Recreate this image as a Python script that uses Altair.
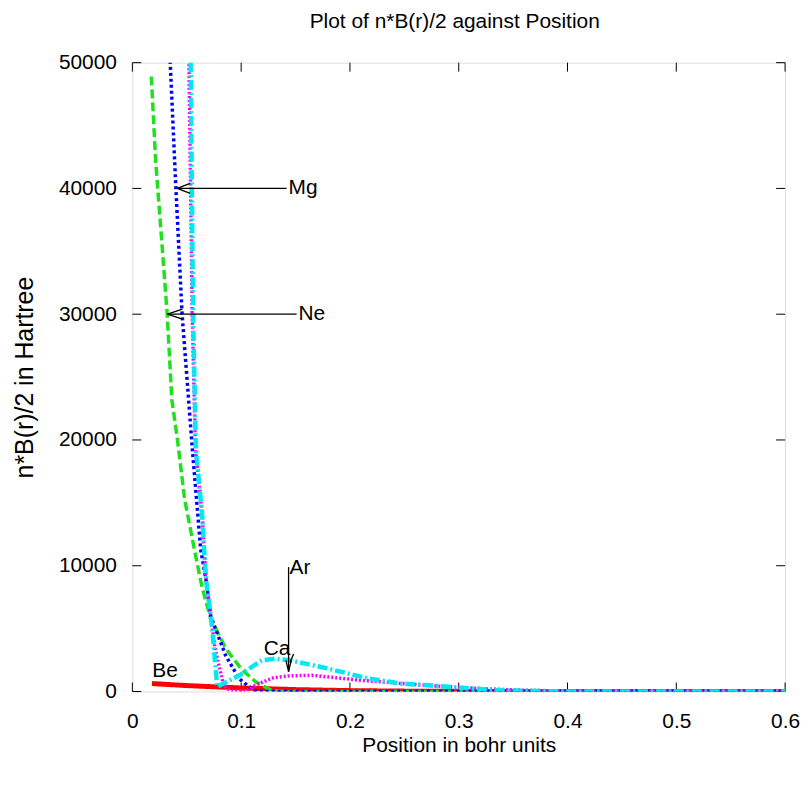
import altair as alt
import pandas as pd

# ---------------- data ----------------
be_x = [0.018, 0.05, 0.1, 0.15, 0.2, 0.25, 0.3, 0.4, 0.5, 0.6]
be_y = [630, 470, 280, 150, 70, 30, 10, 0, 0, 0]

ne_x = [0.0174, 0.0214, 0.0277, 0.032, 0.0363, 0.0415, 0.048, 0.057, 0.064, 0.072, 0.086, 0.1, 0.113, 0.128, 0.14, 0.2, 0.3, 0.4, 0.5, 0.6]
ne_y = [48900, 42200, 35000, 30000, 23200, 20000, 15300, 11300, 8300, 5800, 3400, 1800, 790, 80, 0, 0, 0, 0, 0, 0]

mg_x = [0.03, 0.0348, 0.040, 0.0457, 0.0552, 0.0628, 0.068, 0.072, 0.0857, 0.098, 0.107, 0.112, 0.12, 0.2, 0.3, 0.4, 0.5, 0.6]
mg_y = [62000, 50000, 40000, 30000, 19200, 11300, 8700, 6000, 2870, 1030, 400, 80, 0, 0, 0, 0, 0, 0]

ar_x = [0.048, 0.052, 0.055, 0.058, 0.0613, 0.0643, 0.0659, 0.068, 0.072, 0.076, 0.0796, 0.084, 0.09, 0.105, 0.113, 0.13, 0.144, 0.165, 0.21, 0.272, 0.317, 0.36, 0.4, 0.5, 0.6]
ar_y = [60000, 50000, 30000, 19200, 16600, 13900, 11300, 8700, 6000, 3400, 2060, 470, 50, 50, 500, 1100, 1240, 1290, 890, 475, 240, 100, 20, 0, 0]

ca_x = [0.05, 0.0536, 0.0558, 0.0585, 0.0613, 0.0643, 0.0659, 0.068, 0.072, 0.0734, 0.078, 0.098, 0.119, 0.131, 0.145, 0.18, 0.217, 0.247, 0.272, 0.302, 0.336, 0.4, 0.5, 0.6]
ca_y = [60000, 50000, 30000, 19200, 16600, 13900, 11300, 8700, 6000, 5000, 370, 1270, 2480, 2610, 2480, 1820, 1030, 630, 500, 300, 100, 0, 0, 0]

x_ticks = [0, 0.1, 0.2, 0.3, 0.4, 0.5, 0.6]
y_ticks = [0, 10000, 20000, 30000, 40000, 50000]

title_text = ["Plot of n*B(r)/2 against Position"]

# annotation labels
label_text = ["Mg", "Ne", "Ar", "Ca", "Be"]
label_x = [0.1436, 0.1527, 0.1445, 0.1207, 0.0183]
label_y = [40000, 30000, 9810, 3400, 1660]

# annotation segments (arrow shafts and heads)
seg_x1 = [0.1418, 0.0412, 0.0412, 0.151, 0.0323, 0.0323, 0.1436, 0.1436, 0.1436, 0.1451]
seg_y1 = [40000, 40000, 40000, 30000, 30000, 30000, 9890, 1580, 1580, 2350]
seg_x2 = [0.0412, 0.0531, 0.0531, 0.0323, 0.0460, 0.0460, 0.1436, 0.1411, 0.1461, 0.1482]
seg_y2 = [40000, 40400, 39600, 30000, 30400, 29600, 1580, 2500, 2500, 2990]

# ---------------- chart ----------------
W, H = 656, 632
FONT = "Liberation Sans"
FS = 21

xscale = alt.Scale(domain=[0, 0.6], nice=False, zero=False)
yscale = alt.Scale(domain=[0, 50000], nice=False, zero=False)

xaxis = alt.Axis(values=x_ticks, format="~g", grid=False, ticks=False, tickSize=0, domain=False,
                 labelFont=FONT, labelFontSize=FS, labelColor="black", labelPadding=19,
                 labelFlush=False, labelOverlap=False,
                 title="Position in bohr units", titleFont=FONT, titleFontSize=FS,
                 titleFontWeight="normal", titleColor="black", titleX=W / 2, titleY=54,
                 titleBaseline="middle", titleAlign="center")
yaxis = alt.Axis(values=y_ticks, format="d", grid=False, ticks=False, tickSize=0, domain=False,
                 labelFont=FONT, labelFontSize=FS, labelColor="black", labelPadding=16,
                 labelFlush=False, labelOverlap=False,
                 title="n*B(r)/2 in Hartree", titleFont=FONT, titleFontSize=25,
                 titleFontWeight="normal", titleColor="black", titleAngle=270,
                 titleX=-108, titleY=H / 2, titleBaseline="middle", titleAlign="center")


def series(xs, ys):
    return pd.DataFrame({"x": xs, "y": ys})


def line_layer(xs, ys, color, width, dash):
    return alt.Chart(series(xs, ys)).mark_line(
        color=color, strokeWidth=width, strokeDash=dash, clip=True
    ).encode(
        x=alt.X("x:Q", scale=xscale, axis=xaxis),
        y=alt.Y("y:Q", scale=yscale, axis=yaxis),
    )


be = line_layer(be_x, be_y, "#ff0000", 5, [1, 0])
ne = line_layer(ne_x, ne_y, "#1fe01f", 3.5, [9, 4])
mg = line_layer(mg_x, mg_y, "#0000ff", 3.5, [3, 3])
ar = line_layer(ar_x, ar_y, "#ff00ff", 3.5, [2, 2])
ca = line_layer(ca_x, ca_y, "#00e8f0", 4.5, [10, 3, 2, 3])

xt = pd.DataFrame({"x": x_ticks})
yt = pd.DataFrame({"y": y_ticks})
TL = 9
xtick_b = alt.Chart(xt).mark_rule(color="black", strokeWidth=1).encode(
    x=alt.X("x:Q", scale=xscale, axis=xaxis), y=alt.value(H), y2=alt.value(H - TL))
xtick_t = alt.Chart(xt).mark_rule(color="black", strokeWidth=1).encode(
    x=alt.X("x:Q", scale=xscale, axis=xaxis), y=alt.value(0), y2=alt.value(TL))
ytick_l = alt.Chart(yt).mark_rule(color="black", strokeWidth=1).encode(
    y=alt.Y("y:Q", scale=yscale, axis=yaxis), x=alt.value(0), x2=alt.value(TL))
ytick_r = alt.Chart(yt).mark_rule(color="black", strokeWidth=1).encode(
    y=alt.Y("y:Q", scale=yscale, axis=yaxis), x=alt.value(W - TL), x2=alt.value(W))

segs = pd.DataFrame({"x": seg_x1, "y": seg_y1, "x2": seg_x2, "y2": seg_y2})
arrows = alt.Chart(segs).mark_rule(color="black", strokeWidth=1.3).encode(
    x=alt.X("x:Q", scale=xscale, axis=xaxis), y=alt.Y("y:Q", scale=yscale, axis=yaxis),
    x2="x2:Q", y2="y2:Q")

labels = alt.Chart(pd.DataFrame({"t": label_text, "x": label_x, "y": label_y})).mark_text(
    font=FONT, fontSize=FS, align="left", baseline="middle", color="black"
).encode(x=alt.X("x:Q", scale=xscale, axis=xaxis), y=alt.Y("y:Q", scale=yscale, axis=yaxis),
         text="t:N")

title = alt.Chart(pd.DataFrame({"t": title_text})).mark_text(
    font=FONT, fontSize=FS, align="center", baseline="alphabetic", color="black"
).encode(x=alt.value(W / 2 - 4), y=alt.value(-35), text="t:N")

chart = alt.layer(
    xtick_b, xtick_t, ytick_l, ytick_r, be, ne, mg, ar, ca, arrows, labels, title
).properties(
    width=W, height=H,
    autosize=alt.AutoSizeParams(type="none"),
    padding={"left": 125, "top": 53, "right": 16, "bottom": 84},
).configure_view(stroke="black", strokeWidth=1.2).configure(background="white")

chart.save("out.html", embed_options={"renderer": "svg", "actions": False})
